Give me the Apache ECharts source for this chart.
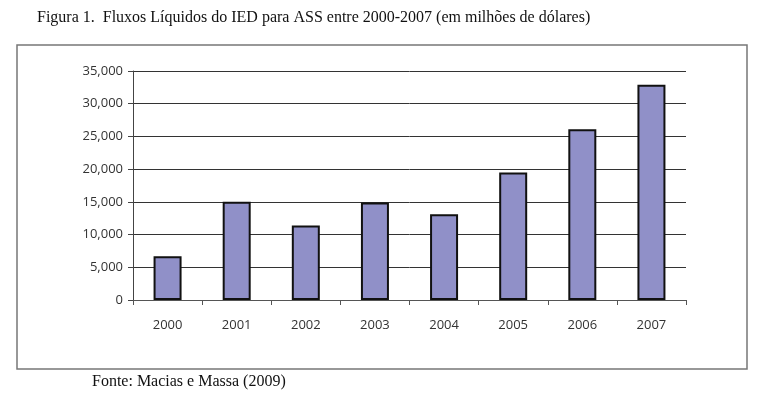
<!DOCTYPE html>
<html>
<head>
<meta charset="utf-8">
<script src="https://cdn.jsdelivr.net/npm/echarts@6/dist/echarts.min.js"></script>
<style>
  html, body { margin: 0; padding: 0; background: #fff; }
  #chart { width: 768px; height: 396px; }
</style>
</head>
<body>
<div id="chart"></div>
<script>
// 数据
const anos = ['2000', '2001', '2002', '2003', '2004', '2005', '2006', '2007'];
const fluxos = [6700, 15000, 11400, 14900, 13100, 19500, 26100, 32900];

const chart = echarts.init(document.querySelector('#chart'));
chart.setOption({
    backgroundColor: '#fff',
    animation: false,
    title: [
        {
            text: 'Figura 1.  Fluxos Líquidos do IED para ASS entre 2000-2007 (em milhões de dólares)',
            left: 32,
            top: 5,
            textStyle: {
                fontFamily: 'Liberation Serif',
                fontSize: 16,
                fontWeight: 'normal',
                color: '#111'
            }
        },
        {
            text: 'Fonte: Macias e Massa (2009)',
            left: 87,
            top: 369,
            textStyle: {
                fontFamily: 'Liberation Serif',
                fontSize: 16,
                fontWeight: 'normal',
                color: '#111'
            }
        }
    ],
    // 外框
    graphic: [
        {
            type: 'rect',
            shape: { x: 17, y: 45, width: 730, height: 324 },
            style: { fill: 'none', stroke: '#777', lineWidth: 1.5 },
            silent: true
        }
    ],
    grid: {
        left: 133,
        right: 82,
        top: 71,
        bottom: 96
    },
    xAxis: {
        type: 'category',
        data: anos,
        axisLine: { lineStyle: { color: '#555', width: 1 } },
        axisTick: { show: true, length: 5, lineStyle: { color: '#555' } },
        axisLabel: {
            margin: 19,
            fontFamily: 'Open Sans',
            fontSize: 13,
            color: '#333'
        }
    },
    yAxis: {
        type: 'value',
        min: 0,
        max: 35000,
        interval: 5000,
        axisLine: { show: true, lineStyle: { color: '#444', width: 1 } },
        axisTick: { show: true, length: 5, lineStyle: { color: '#444' } },
        axisLabel: {
            margin: 10,
            fontFamily: 'Open Sans',
            fontSize: 13,
            color: '#333',
            formatter: v => v.toLocaleString('en-US')
        },
        splitLine: {
            lineStyle: { color: '#333', width: 1 }
        }
    },
    series: [
        {
            type: 'bar',
            data: fluxos,
            barWidth: 28,
            itemStyle: {
                color: '#9090c8',
                borderColor: '#111',
                borderWidth: 2
            }
        }
    ]
});
</script>
</body>
</html>
